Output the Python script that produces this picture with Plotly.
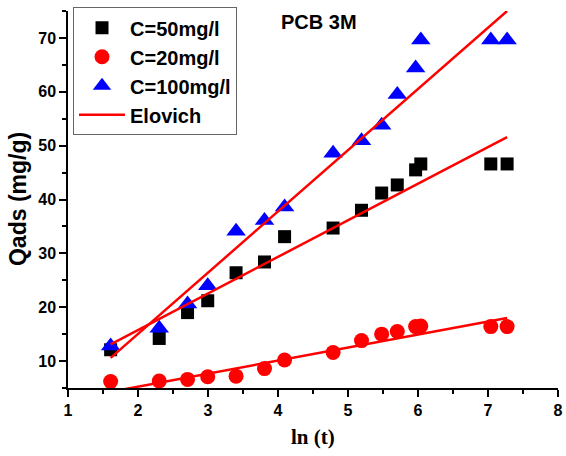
import plotly.graph_objects as go

# ln(t) values
ln_t = [1.609, 2.303, 2.708, 2.996, 3.401, 3.807, 4.094, 4.787, 5.193, 5.481, 5.704, 5.966, 6.040, 7.040, 7.273]

q_50 = [12.1, 14.2, 19.0, 21.2, 26.4, 28.4, 33.1, 34.7, 38.0, 41.2, 42.7, 45.5, 46.6, 46.6, 46.6]
q_20 = [6.2, 6.3, 6.6, 7.1, 7.2, 8.6, 10.2, 11.6, 13.8, 15.0, 15.5, 16.4, 16.5, 16.4, 16.4]
q_100 = [12.8, 16.1, 20.6, 24.0, 34.1, 36.1, 38.6, 48.6, 50.9, 53.8, 59.5, 64.4, 69.6, 69.6, 69.6]

# Elovich fitted lines (values at first and last ln t)
fit_x = [1.609, 7.273]
fit_50 = [13.1, 51.6]
fit_20 = [4.3, 18.0]
fit_100 = [10.6, 75.0]

series_names = ["C=50mg/l", "C=20mg/l", "C=100mg/l", "Elovich"]

fig = go.Figure()
fig.add_trace(go.Scatter(x=ln_t, y=q_50, mode="markers", name=series_names[0],
                         marker=dict(symbol="square", size=13, color="black")))
fig.add_trace(go.Scatter(x=ln_t, y=q_20, mode="markers", name=series_names[1],
                         marker=dict(symbol="circle", size=15, color="red")))
fig.add_trace(go.Scatter(x=ln_t, y=q_100, mode="markers", name=series_names[2],
                         marker=dict(symbol="triangle-up", size=17, color="blue")))
fig.add_trace(go.Scatter(x=fit_x, y=fit_50, mode="lines", name=series_names[3],
                         line=dict(color="red", width=2.5), showlegend=True))
fig.add_trace(go.Scatter(x=fit_x, y=fit_20, mode="lines", name=series_names[3],
                         line=dict(color="red", width=2.5), showlegend=False))
fig.add_trace(go.Scatter(x=fit_x, y=fit_100, mode="lines", name=series_names[3],
                         line=dict(color="red", width=2.5), showlegend=False))

axis_common = dict(
    showline=True, linecolor="black", linewidth=1.5, mirror=False,
    ticks="outside", ticklen=7, tickwidth=1.5, tickcolor="black",
    showgrid=False, zeroline=False, automargin=False,
    tickfont=dict(family="Liberation Sans, Arial", size=16, color="black", weight="bold"),
)

fig.update_layout(
    template="none",
    width=566, height=456,
    margin=dict(l=68, r=8, t=11, b=68, autoexpand=False),
    paper_bgcolor="white", plot_bgcolor="white",
    xaxis=dict(range=[1, 8], dtick=1, tick0=1,
               minor=dict(dtick=0.5, ticks="outside", ticklen=4, tickwidth=1.5, tickcolor="black"),
               **axis_common),
    yaxis=dict(range=[5, 75], dtick=10, tick0=10,
               minor=dict(dtick=5, ticks="outside", ticklen=4, tickwidth=1.5, tickcolor="black"),
               **axis_common),
    showlegend=True,
    legend=dict(x=0.129, y=0.984, xref="container", yref="container",
                xanchor="left", yanchor="top",
                bordercolor="#666666", borderwidth=1, bgcolor="white",
                font=dict(family="Liberation Sans, Arial", size=20, color="black", weight="bold"),
                itemwidth=46, tracegroupgap=0),
    annotations=[
        dict(text="PCB 3M", x=0.512, y=0.971, xref="paper", yref="paper",
             showarrow=False, xanchor="center", yanchor="middle",
             font=dict(family="Liberation Sans, Arial", size=20, color="black", weight="bold")),
        dict(text="Qads (mg/g)", x=-0.103, y=0.5, xref="paper", yref="paper",
             showarrow=False, xanchor="center", yanchor="middle", textangle=-90,
             font=dict(family="Liberation Sans, Arial", size=23, color="black", weight="bold")),
        dict(text="ln (t)", x=0.4997, y=-0.13, xref="paper", yref="paper",
             showarrow=False, xanchor="center", yanchor="middle",
             font=dict(family="Liberation Serif, Times New Roman", size=21, color="black", weight="bold")),
    ],
)

fig.write_html("out.html", config={"displayModeBar": False},
               post_script="document.body.style.margin='0';document.body.style.padding='0';")
